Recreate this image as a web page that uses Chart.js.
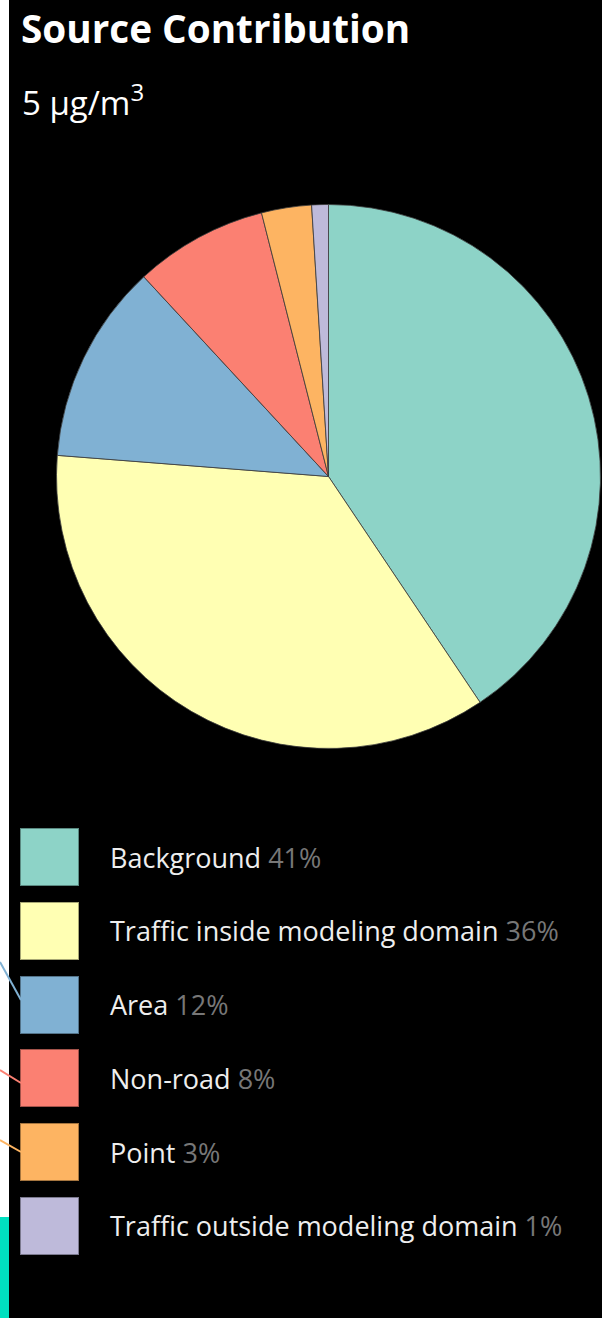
<!DOCTYPE html>
<html lang="en">
<head>
    <meta charset="UTF-8">
    <title>Source Contribution</title>
    <script src="https://cdn.jsdelivr.net/npm/chart.js"></script>
    <style>
        * {
            margin: 0;
            padding: 0;
            box-sizing: border-box;
            font-family: 'Open Sans', sans-serif;
        }
        body {
            width: 602px;
            height: 1318px;
            background: #fff;
            position: relative;
            overflow: hidden;
        }
        .panel {
            position: absolute;
            left: 9px;
            top: 0;
            right: 0;
            bottom: 0;
            background: #000;
        }
        .side-tab {
            position: absolute;
            left: 0;
            top: 1217px;
            width: 9px;
            bottom: 0;
            background: #00e0c0;
        }
        h1 {
            position: absolute;
            left: 21px;
            top: 2px;
            color: #fff;
            font-size: 38.7px;
            font-weight: 700;
            white-space: nowrap;
        }
        .unit {
            position: absolute;
            left: 22px;
            top: 77px;
            color: #fff;
            font-size: 33px;
            white-space: nowrap;
        }
        .unit sup {
            font-size: 24px;
            position: relative;
            top: -2px;
        }
        #pie {
            position: absolute;
            left: 56px;
            top: 204px;
        }
        #legend {
            position: absolute;
            left: 20px;
            top: 828px;
        }
        .item {
            display: flex;
            align-items: center;
            height: 58px;
            margin-bottom: 15.8px;
        }
        .swatch {
            width: 59px;
            height: 58px;
            border: 1px solid rgba(0, 0, 0, 0.35);
        }
        .name {
            margin-left: 31px;
            color: #eee;
            font-size: 27px;
            font-weight: 500;
            white-space: nowrap;
        }
        .pct {
            color: #777;
            font-weight: 400;
        }
        svg.leaders {
            position: absolute;
            left: 0;
            top: 0;
        }
    </style>
</head>
<body>
    <div class="panel"></div>
    <div class="side-tab"></div>
    <h1>Source Contribution</h1>
    <div class="unit">5 μg/m<sup>3</sup></div>
    <canvas id="pie" width="545" height="545"></canvas>
    <div id="legend"></div>
    <svg class="leaders" width="30" height="1318">
        <line x1="0" y1="962" x2="21" y2="1000" stroke="#80b1d3" stroke-width="2"/>
        <line x1="0" y1="1070" x2="21" y2="1083" stroke="#fb8072" stroke-width="2"/>
        <line x1="0" y1="1140" x2="21" y2="1152" stroke="#fdb462" stroke-width="2"/>
    </svg>
    <script>
        const sources = ['Background', 'Traffic inside modeling domain', 'Area', 'Non-road', 'Point', 'Traffic outside modeling domain'];
        const shares = [41, 36, 12, 8, 3, 1];
        const sliceColors = ['#8dd3c7', '#ffffb3', '#80b1d3', '#fb8072', '#fdb462', '#bebada'];

        // legend: name in white, share in grey
        const legend = document.getElementById('legend');
        sources.forEach(function (name, i) {
            const item = document.createElement('div');
            item.className = 'item';
            item.innerHTML = '<div class="swatch" style="background:' + sliceColors[i] + '"></div>' +
                '<span class="name">' + name + ' <span class="pct">' + shares[i] + '%</span></span>';
            legend.appendChild(item);
        });

        new Chart(document.getElementById('pie'), {
            type: 'pie',
            data: {
                labels: sources,
                datasets: [{
                    data: shares,
                    backgroundColor: sliceColors,
                    borderColor: 'rgba(60, 60, 60, 0.8)',
                    borderWidth: 1
                }]
            },
            options: {
                responsive: false,
                animation: false,
                layout: { padding: 0 },
                plugins: {
                    legend: { display: false },
                    tooltip: { enabled: false }
                }
            }
        });
    </script>
</body>
</html>
